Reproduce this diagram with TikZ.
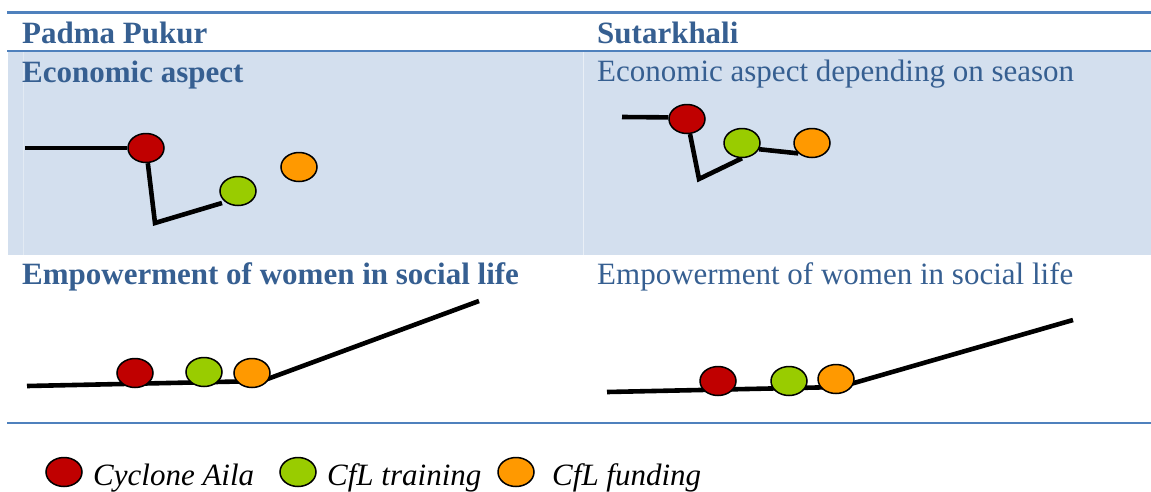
\documentclass[tikz,border=0pt]{standalone}
\usepackage{fontspec}
\setmainfont{Liberation Serif}
\usetikzlibrary{shapes.geometric}
\pgfdeclarelayer{shade}
\pgfdeclarelayer{wires}
\pgfsetlayers{shade,wires,main}
\definecolor{rulecol}{HTML}{4F81BD}
\definecolor{headcol}{HTML}{365F91}
\definecolor{cellcol}{HTML}{D3DFEE}
\definecolor{ailacol}{HTML}{C00000}
\definecolor{traincol}{HTML}{99CC00}
\definecolor{fundcol}{HTML}{FF9900}

\begin{document}
\begin{tikzpicture}[x=1pt,y=-1pt,
  event/.style={ellipse, draw=black, line width=1.5pt, minimum width=36pt,
                minimum height=29pt, inner sep=0pt},
  aila/.style={event, fill=ailacol},
  train/.style={event, fill=traincol},
  fund/.style={event, fill=fundcol},
  trend/.style={line width=4.6pt, black},
  rowrule/.style={line width=2.5pt, rulecol},
  lbl/.style={anchor=base west, inner sep=0pt, font=\fontsize{31}{36}\selectfont},
  head/.style={lbl, text=headcol, font=\fontsize{31}{36}\selectfont\bfseries},
  sub/.style={lbl, text=headcol},
  key/.style={lbl, font=\fontsize{31}{36}\selectfont\itshape},
]
\useasboundingbox (0,0) rectangle (1151,491);

% table shading and rules
\begin{pgfonlayer}{shade}
  \fill[cellcol] (8,52) rectangle (1151,255);
  \draw[white, opacity=0.35, line width=1pt] (23,52) -- (23,255);
  \draw[white, opacity=0.5, line width=1pt] (583,52) -- (583,255);
\end{pgfonlayer}
\draw[rowrule] (7,12.5) -- (1151,12.5);
\draw[rowrule] (7,51) -- (1151,51);
\draw[rowrule] (7,423) -- (1151,423);

% headings
\node[head] (hPadma) at (22,43) {Padma Pukur};
\node[head] (hSutar) at (597,43) {Sutarkhali};
\node[head] (ecoP) at (22,82) {Economic aspect};
\node[sub]  (ecoS) at (597,81) {Economic aspect depending on season};
\node[head] (empP) at (22,284) {Empowerment of women in social life};
\node[sub]  (empS) at (597,284) {Empowerment of women in social life};

% economic aspect, Padma Pukur
\node[aila]  (r1) at (146,148) {};
\node[train] (g1) at (238,191) {};
\node[fund]  (o1) at (299,167) {};
\coordinate (pa0) at (25,148);
\coordinate (pa1) at (155,223);
\coordinate (pa2) at (222,203);
\begin{pgfonlayer}{wires}
  \draw[trend] (pa0) -- (r1);
  \draw[trend] (r1) -- (pa1) -- (pa2);
\end{pgfonlayer}

% economic aspect, Sutarkhali
\node[aila]  (r2) at (687,119) {};
\node[train] (g2) at (742,143) {};
\node[fund]  (o2) at (812,143) {};
\coordinate (sa0) at (622,117);
\coordinate (sa1) at (699,179);
\begin{pgfonlayer}{wires}
  \draw[trend] (sa0) -- (r2.175);
  \draw[trend] (r2) -- (sa1) -- (g2.south);
  \draw[trend] (g2.-20) -- (o2.217);
\end{pgfonlayer}

% empowerment, Padma Pukur
\node[aila]  (r3) at (135,373) {};
\node[train] (g3) at (204,372) {};
\node[fund]  (o3) at (252,373) {};
\coordinate (pb0) at (27,386);
\coordinate (pb1) at (262,381);
\coordinate (pb2) at (479,301);
\begin{pgfonlayer}{wires}
  \draw[trend] (pb0) -- (pb1) -- (pb2);
\end{pgfonlayer}

% empowerment, Sutarkhali
\node[aila]  (r4) at (718,381) {};
\node[train] (g4) at (789,381) {};
\node[fund]  (o4) at (836,379) {};
\coordinate (sb0) at (607,392);
\coordinate (sb1) at (840,387);
\coordinate (sb2) at (1073,320);
\begin{pgfonlayer}{wires}
  \draw[trend] (sb0) -- (sb1) -- (sb2);
\end{pgfonlayer}

% legend
\node[aila]  (kA) at (64,472) {};
\node[key]   (kAt) at (93,485) {Cyclone Aila};
\node[train] (kT) at (298,472) {};
\node[key]   (kTt) at (327,485) {CfL training};
\node[fund]  (kF) at (516,472) {};
\node[key]   (kFt) at (552,485) {CfL funding};
\end{tikzpicture}
\end{document}
